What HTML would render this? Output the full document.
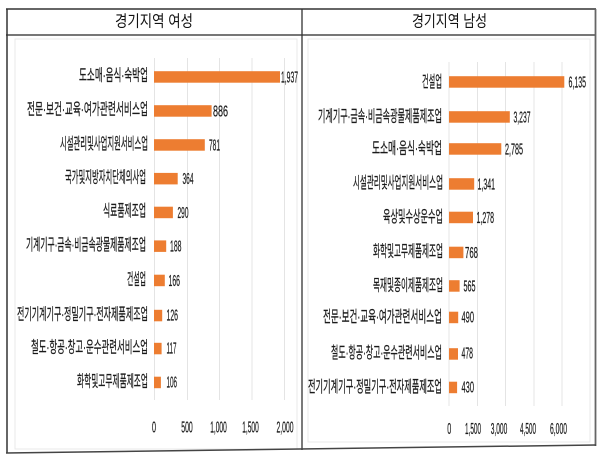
<!DOCTYPE html>
<html><head><meta charset="utf-8">
<style>
html,body{margin:0;padding:0;background:#fff;}
svg{display:block;}
.k{font-family:"Liberation Sans","Noto Sans CJK KR",sans-serif;font-size:16px;fill:#1a1a1a;stroke:#1a1a1a;stroke-width:0.25;}
.n{font-family:"Liberation Sans",sans-serif;font-size:15.5px;fill:#1a1a1a;stroke:#1a1a1a;stroke-width:0.25;}
.t{font-family:"Liberation Sans","Noto Sans CJK KR",sans-serif;font-size:16px;fill:#111;}
</style></head>
<body>
<svg width="600" height="456" viewBox="0 0 600 456" xmlns="http://www.w3.org/2000/svg">
<rect width="600" height="456" fill="#fff"/>
<rect x="15" y="39" width="282" height="410" fill="none" stroke="#e9e9e9" stroke-width="1"/>
<rect x="308" y="39" width="282" height="403" fill="none" stroke="#e9e9e9" stroke-width="1"/>
<line x1="6" y1="9" x2="596" y2="9" stroke="#333" stroke-width="1.5"/>
<line x1="6" y1="35" x2="596" y2="35" stroke="#777" stroke-width="2"/>
<line x1="7" y1="9" x2="7" y2="453" stroke="#333" stroke-width="1.5"/>
<line x1="302" y1="9" x2="302" y2="450" stroke="#333" stroke-width="1.3"/>
<line x1="595.5" y1="9" x2="595.5" y2="446" stroke="#666" stroke-width="1.8"/>
<line x1="6" y1="453" x2="596" y2="445" stroke="#444" stroke-width="1.5"/>
<text class="t" x="115" y="22" dominant-baseline="central" textLength="78" lengthAdjust="spacingAndGlyphs">경기지역 여성</text>
<text class="t" x="412" y="22" dominant-baseline="central" textLength="75" lengthAdjust="spacingAndGlyphs">경기지역 남성</text>
<g stroke="#e4e4e4" stroke-width="1">
<line x1="154.5" y1="58" x2="154.5" y2="400"/>
<line x1="187.5" y1="58" x2="187.5" y2="400"/>
<line x1="219.5" y1="58" x2="219.5" y2="400"/>
<line x1="252" y1="58" x2="252" y2="400"/>
<line x1="284.5" y1="58" x2="284.5" y2="400"/>
<line x1="449" y1="62" x2="449" y2="406"/>
<line x1="477.5" y1="62" x2="477.5" y2="406"/>
<line x1="505.5" y1="62" x2="505.5" y2="406"/>
<line x1="534" y1="62" x2="534" y2="406"/>
<line x1="562" y1="62" x2="562" y2="406"/>
</g>
<g fill="#ED7D31">
<rect x="154" y="71.2" width="126" height="11.5"/>
<rect x="154" y="105.2" width="57.6" height="11.5"/>
<rect x="154" y="139.2" width="50.8" height="11.5"/>
<rect x="154" y="172.9" width="23.7" height="11.5"/>
<rect x="154" y="206.7" width="18.9" height="11.5"/>
<rect x="154" y="240.4" width="12.2" height="11.5"/>
<rect x="154" y="274.7" width="10.8" height="11.5"/>
<rect x="154" y="309.8" width="8.2" height="11.5"/>
<rect x="154" y="342.8" width="7.6" height="11.5"/>
<rect x="154" y="376.7" width="6.9" height="11.5"/>
</g>
<g class="k" dominant-baseline="central">
<text x="79" y="76" textLength="69" lengthAdjust="spacingAndGlyphs">도소매·음식·숙박업</text>
<text x="27" y="110" textLength="121" lengthAdjust="spacingAndGlyphs">전문·보건·교육·여가관련서비스업</text>
<text x="60" y="144.5" textLength="88" lengthAdjust="spacingAndGlyphs">시설관리및사업지원서비스업</text>
<text x="65" y="178" textLength="81" lengthAdjust="spacingAndGlyphs">국가및지방자치단체의사업</text>
<text x="103" y="211.5" textLength="43" lengthAdjust="spacingAndGlyphs">식료품제조업</text>
<text x="26" y="245.5" textLength="120" lengthAdjust="spacingAndGlyphs">기계기구·금속·비금속광물제품제조업</text>
<text x="127" y="280" textLength="19" lengthAdjust="spacingAndGlyphs">건설업</text>
<text x="17" y="315" textLength="131" lengthAdjust="spacingAndGlyphs">전기기계기구·정밀기구·전자제품제조업</text>
<text x="31" y="348" textLength="117" lengthAdjust="spacingAndGlyphs">철도·항공·창고·운수관련서비스업</text>
<text x="77" y="382" textLength="71" lengthAdjust="spacingAndGlyphs">화학및고무제품제조업</text>
</g>
<g class="n" dominant-baseline="central">
<text x="281" y="78" textLength="17" lengthAdjust="spacingAndGlyphs">1,937</text>
<text x="213" y="112" textLength="15" lengthAdjust="spacingAndGlyphs">886</text>
<text x="209" y="146" textLength="11" lengthAdjust="spacingAndGlyphs">781</text>
<text x="182.5" y="179.5" textLength="11" lengthAdjust="spacingAndGlyphs">364</text>
<text x="177.5" y="213.5" textLength="11" lengthAdjust="spacingAndGlyphs">290</text>
<text x="170" y="247" textLength="11.5" lengthAdjust="spacingAndGlyphs">188</text>
<text x="168.5" y="281.5" textLength="11.5" lengthAdjust="spacingAndGlyphs">166</text>
<text x="166.5" y="316" textLength="11.5" lengthAdjust="spacingAndGlyphs">126</text>
<text x="166.5" y="349" textLength="10" lengthAdjust="spacingAndGlyphs">117</text>
<text x="166.5" y="383" textLength="10.5" lengthAdjust="spacingAndGlyphs">106</text>
</g>
<g class="n" dominant-baseline="central" text-anchor="middle">
<text x="154" y="428" textLength="4" lengthAdjust="spacingAndGlyphs">0</text>
<text x="187" y="428" textLength="11.5" lengthAdjust="spacingAndGlyphs">500</text>
<text x="218.5" y="428" textLength="16.5" lengthAdjust="spacingAndGlyphs">1,000</text>
<text x="250.5" y="428" textLength="16.5" lengthAdjust="spacingAndGlyphs">1,500</text>
<text x="285" y="428" textLength="17" lengthAdjust="spacingAndGlyphs">2,000</text>
</g>
<g fill="#ED7D31">
<rect x="449" y="76.2" width="115.3" height="11.5"/>
<rect x="449" y="111.2" width="60.8" height="11.5"/>
<rect x="449" y="143.2" width="52.3" height="11.5"/>
<rect x="449" y="178.2" width="25.2" height="11.5"/>
<rect x="449" y="211.7" width="24" height="11.5"/>
<rect x="449" y="246.7" width="14.4" height="11.5"/>
<rect x="449" y="280.2" width="10.6" height="11.5"/>
<rect x="449" y="311.7" width="9.2" height="11.5"/>
<rect x="449" y="348.2" width="9" height="11.5"/>
<rect x="449" y="381.7" width="8.1" height="11.5"/>
</g>
<g class="k" dominant-baseline="central">
<text x="422" y="82.5" textLength="20" lengthAdjust="spacingAndGlyphs">건설업</text>
<text x="318" y="117" textLength="124" lengthAdjust="spacingAndGlyphs">기계기구·금속·비금속광물제품제조업</text>
<text x="372" y="149" textLength="70" lengthAdjust="spacingAndGlyphs">도소매·음식·숙박업</text>
<text x="353" y="183.5" textLength="90" lengthAdjust="spacingAndGlyphs">시설관리및사업지원서비스업</text>
<text x="383" y="217.5" textLength="60" lengthAdjust="spacingAndGlyphs">육상및수상운수업</text>
<text x="373" y="252" textLength="70" lengthAdjust="spacingAndGlyphs">화학및고무제품제조업</text>
<text x="373" y="286" textLength="70" lengthAdjust="spacingAndGlyphs">목재및종이제품제조업</text>
<text x="323" y="317.5" textLength="119" lengthAdjust="spacingAndGlyphs">전문·보건·교육·여가관련서비스업</text>
<text x="331" y="353.5" textLength="111" lengthAdjust="spacingAndGlyphs">철도·항공·창고·운수관련서비스업</text>
<text x="308" y="387.5" textLength="134" lengthAdjust="spacingAndGlyphs">전기기계기구·정밀기구·전자제품제조업</text>
</g>
<g class="n" dominant-baseline="central">
<text x="568.5" y="83" textLength="17.5" lengthAdjust="spacingAndGlyphs">6,135</text>
<text x="513.5" y="118" textLength="17" lengthAdjust="spacingAndGlyphs">3,237</text>
<text x="505" y="150" textLength="18" lengthAdjust="spacingAndGlyphs">2,785</text>
<text x="477.5" y="185" textLength="17.5" lengthAdjust="spacingAndGlyphs">1,341</text>
<text x="476.5" y="218.5" textLength="17.5" lengthAdjust="spacingAndGlyphs">1,278</text>
<text x="465" y="253.5" textLength="13" lengthAdjust="spacingAndGlyphs">768</text>
<text x="463.5" y="287" textLength="12" lengthAdjust="spacingAndGlyphs">565</text>
<text x="461.5" y="318" textLength="12.5" lengthAdjust="spacingAndGlyphs">490</text>
<text x="461.5" y="354" textLength="11.5" lengthAdjust="spacingAndGlyphs">478</text>
<text x="461.5" y="388" textLength="12.5" lengthAdjust="spacingAndGlyphs">430</text>
</g>
<g class="n" dominant-baseline="central" text-anchor="middle">
<text x="449.3" y="429.5" textLength="4" lengthAdjust="spacingAndGlyphs">0</text>
<text x="473" y="429.5" textLength="16" lengthAdjust="spacingAndGlyphs">1,500</text>
<text x="499" y="429.5" textLength="16.5" lengthAdjust="spacingAndGlyphs">3,000</text>
<text x="528" y="429.5" textLength="16" lengthAdjust="spacingAndGlyphs">4,500</text>
<text x="558.5" y="429.5" textLength="17" lengthAdjust="spacingAndGlyphs">6,000</text>
</g>
</svg>
</body></html>
